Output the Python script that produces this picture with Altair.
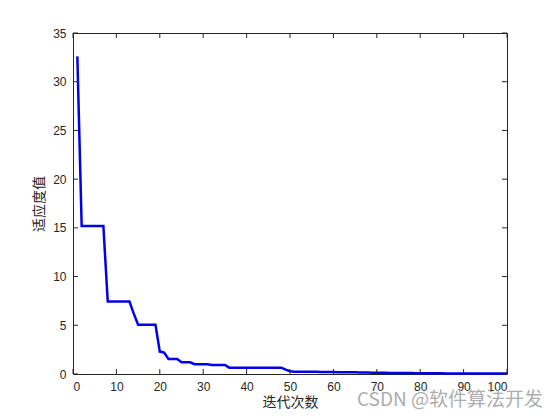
import altair as alt
import pandas as pd

iterations = list(range(1, 101))
fitness = [
    32.6,
    15.2, 15.2, 15.2, 15.2, 15.2, 15.2,
    7.45, 7.45, 7.45, 7.45, 7.45, 7.45,
    6.2,
    5.05, 5.05, 5.05, 5.05, 5.05,
    2.3,
    2.2,
    1.55, 1.55, 1.55,
    1.2, 1.2, 1.2,
    1.0, 1.0, 1.0, 1.0,
    0.92, 0.92, 0.92, 0.92,
    0.65, 0.65, 0.65, 0.65, 0.65, 0.65, 0.65, 0.65, 0.65, 0.65, 0.65, 0.65, 0.65,
    0.45,
    0.28,
    0.24, 0.24, 0.23, 0.23, 0.22, 0.22, 0.21, 0.21, 0.2, 0.2,
    0.19, 0.18, 0.18, 0.17, 0.17, 0.16, 0.15, 0.15, 0.14, 0.14,
    0.13, 0.12, 0.11, 0.1, 0.1, 0.09, 0.09, 0.09, 0.08, 0.08,
    0.08, 0.07, 0.07, 0.07, 0.07, 0.06, 0.06, 0.06, 0.06, 0.06,
    0.05, 0.05, 0.05, 0.05, 0.05, 0.05, 0.05, 0.05, 0.05, 0.05,
]
x_ticks = [0, 10, 20, 30, 40, 50, 60, 70, 80, 90, 100]
y_ticks = [0, 5, 10, 15, 20, 25, 30, 35]
x_title = "迭代次数"
y_title = "适应度值"
watermark = "CSDN @软件算法开发"

W, H = 434, 341
AX = "#262626"
TL = 5

df = pd.DataFrame({"iter": iterations, "fit": fitness})
xt = pd.DataFrame({"iter": x_ticks})
yt = pd.DataFrame({"fit": y_ticks})

xscale = alt.Scale(domain=[0, 100], nice=False, zero=False)
yscale = alt.Scale(domain=[0, 35], nice=False, zero=False)

xaxis = alt.Axis(values=x_ticks, ticks=False, domain=False, grid=False,
                 labelFont="Liberation Sans", labelFontSize=12, labelColor=AX,
                 labelPadding=7, titleFont="Noto Sans CJK SC", titleFontSize=14,
                 titleFontWeight="normal", titleColor=AX, titlePadding=3)
yaxis = alt.Axis(values=y_ticks, ticks=False, domain=False, grid=False,
                 labelFont="Liberation Sans", labelFontSize=12, labelColor=AX,
                 labelPadding=7, titleFont="Noto Sans CJK SC", titleFontSize=14,
                 titleFontWeight="normal", titleColor=AX, titlePadding=6)

def X(f):
    return alt.X(f, scale=xscale, title=x_title, axis=xaxis)

def Y(f):
    return alt.Y(f, scale=yscale, title=y_title, axis=yaxis)

line = alt.Chart(df).mark_line(color="#0000ee", strokeWidth=2.5).encode(
    x=X("iter:Q"), y=Y("fit:Q"))

bottom_ticks = alt.Chart(xt).mark_rule(color=AX, strokeWidth=1).encode(
    x=X("iter:Q"), y=alt.value(H), y2=alt.value(H - TL))
top_ticks = alt.Chart(xt).mark_rule(color=AX, strokeWidth=1).encode(
    x=X("iter:Q"), y=alt.value(0), y2=alt.value(TL))
left_ticks = alt.Chart(yt).mark_rule(color=AX, strokeWidth=1).encode(
    y=Y("fit:Q"), x=alt.value(0), x2=alt.value(TL))
right_ticks = alt.Chart(yt).mark_rule(color=AX, strokeWidth=1).encode(
    y=Y("fit:Q"), x=alt.value(W), x2=alt.value(W - TL))

wm = alt.Chart(pd.DataFrame({"s": [watermark]})).mark_text(
    font="Noto Sans CJK SC", fontSize=19, color="#adadad", align="center", baseline="middle"
).encode(text="s:N", x=alt.value(377), y=alt.value(367))

chart = alt.layer(line, bottom_ticks, top_ticks, left_ticks, right_ticks, wm).properties(
    width=W, height=H,
    autosize=alt.AutoSizeParams(type="none"),
    padding={"left": 65, "top": 25, "right": 45, "bottom": 38},
    background="white",
).configure_view(stroke=AX, strokeWidth=1)

chart.save("out.html", embed_options={"renderer": "svg", "actions": False})
